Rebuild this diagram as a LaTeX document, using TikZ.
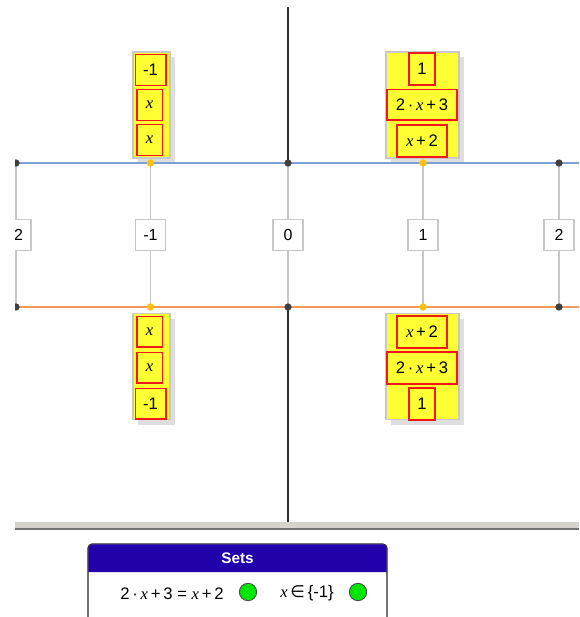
\documentclass[tikz,border=0pt]{standalone}
\usepackage{fontspec}
\setmainfont{Liberation Sans}
\newfontfamily\varfont{Liberation Serif}
\newfontfamily\symfont{DejaVu Sans}
\usetikzlibrary{positioning,calc,shadows}
\definecolor{AxisInk}{HTML}{303030}
\definecolor{LineBlue}{HTML}{7E9FD4}
\definecolor{LineOrange}{HTML}{F79A5C}
\definecolor{DotDark}{HTML}{404040}
\definecolor{DotGold}{HTML}{FFC20E}
\definecolor{TickGray}{HTML}{C8C8C8}
\definecolor{CardYellow}{HTML}{FFFF33}
\definecolor{CardRed}{HTML}{F01818}
\definecolor{HeadBlue}{HTML}{2200AA}
\definecolor{OkGreen}{HTML}{00E600}
\definecolor{BandGray}{HTML}{D6D3CC}
\newcommand{\vx}{{\varfont\itshape x}}
\newcommand{\cdotsym}{\,\textperiodcentered\,}
\newcommand{\plussym}{\,+\,}
\tikzset{
  axis/.style={draw=AxisInk,line width=.8pt},
  tick/.style={draw=TickGray,line width=1.1pt},
  blueline/.style={draw=LineBlue,line width=1.4pt},
  orangeline/.style={draw=LineOrange,line width=1.4pt},
  dot/.style={circle,fill=DotDark,inner sep=0pt,minimum size=5.5pt},
  golddot/.style={dot,fill=DotGold},
  val/.style={draw=TickGray,line width=.9pt,fill=white,minimum width=22.5pt,minimum height=23pt,inner sep=0pt,font=\fontsize{12}{14}\selectfont},
  stack/.style={draw=TickGray,line width=.8pt,fill=CardYellow,inner sep=0pt,
    general shadow={fill=black!13,shadow xshift=4pt,shadow yshift=-4pt}},
  card/.style={draw=CardRed,line width=1pt,fill=CardYellow,inner sep=0pt,minimum height=23pt,font=\fontsize{12.5}{14}\selectfont},
  lamp/.style={circle,draw=black!70,line width=.7pt,fill=OkGreen,minimum size=13pt,inner sep=0pt},
  settext/.style={font=\fontsize{12.5}{14}\selectfont,inner sep=0pt}
}

\begin{document}
\begin{tikzpicture}[x=0.75pt,y=-0.75pt]
  \useasboundingbox (0,0) rectangle (579,617);
  % upper stacks
  \node[stack,minimum width=27.75pt,minimum height=79.5pt] (stl) at (151.5,105) {};
  \node[card,minimum width=23pt] (tl1) at (150.5,70) {-1};
  \node[card,minimum width=19pt] (tl2) at (149.5,105) {\vx};
  \node[card,minimum width=19pt] (tl3) at (149.5,140) {\vx};
  \node[stack,minimum width=54.75pt,minimum height=79.5pt] (str) at (422.5,105) {};
  \node[card,minimum width=19.5pt,minimum height=24pt] (tr1) at (422,69) {1};
  \node[card,minimum width=52.5pt] (tr2) at (422,104.5) {2\cdotsym\vx\plussym3};
  \node[card,minimum width=37.5pt,minimum height=24pt] (tr3) at (422,141) {\vx\plussym2};

  % lower stacks
  \node[stack,minimum width=27.75pt,minimum height=80pt] (sbl) at (151.5,366.5) {};
  \node[card,minimum width=19pt] (bl1) at (149.5,331.5) {\vx};
  \node[card,minimum width=19pt] (bl2) at (149.5,367.5) {\vx};
  \node[card,minimum width=23pt] (bl3) at (150.5,403.5) {-1};
  \node[stack,minimum width=54.75pt,minimum height=80pt] (sbr) at (422.5,366.5) {};
  \node[card,minimum width=37.5pt,minimum height=24pt] (br1) at (422,332) {\vx\plussym2};
  \node[card,minimum width=52.5pt,minimum height=24pt] (br2) at (422,368) {2\cdotsym\vx\plussym3};
  \node[card,minimum width=19.5pt,minimum height=24pt] (br3) at (422,404) {1};

  \begin{scope}
    \clip (15,0) rectangle (579,617);
    % vertical axis
    \coordinate (atop) at (288,7);
    \coordinate (abot) at (288,522);
    \draw[axis] (atop)--(abot);
    % points on both lines
    \foreach \n/\x in {m2/16,m1/150.5,z/288,p1/423,p2/559}{
      \coordinate (t\n) at (\x,163);
      \coordinate (b\n) at (\x,307);
    }
    \draw[tick] (tm2)--node[val] (vm2) {-2}(bm2);
    \draw[tick] (tm1)--node[val] (vm1) {-1}(bm1);
    \draw[tick] (tz)--node[val] (vz) {0}(bz);
    \draw[tick] (tp1)--node[val] (vp1) {1}(bp1);
    \draw[tick] (tp2)--node[val] (vp2) {2}(bp2);
    \coordinate (tl) at (15,163);
    \coordinate (tr) at (579,163);
    \coordinate (bl) at (15,307);
    \coordinate (br) at (579,307);
    \draw[blueline] (tl)--(tr);
    \draw[orangeline] (bl)--(br);
    \foreach \n in {m2,z,p2}{
      \node[dot] at (t\n) {};
      \node[dot] at (b\n) {};
    }
    \node[golddot] (gtm1) at (tm1) {};
    \node[golddot] (gbm1) at (bm1) {};
    \node[golddot] (gtp1) at (tp1) {};
    \node[golddot] (gbp1) at (bp1) {};
  \end{scope}

  % divider
  \fill[BandGray] (15,522) rectangle (579,528);
  \draw[black!55,line width=1.5pt] (15,529)--(579,529);

  % sets panel
  \draw[black!85,line width=.8pt,fill=white,rounded corners=3pt] (88,622) rectangle (387,544);
  \fill[HeadBlue] (88.4,572) {[rounded corners=3pt] -- (88.4,544.4) -- (386.6,544.4)} -- (386.6,572) -- cycle;
  \node[font=\bfseries\fontsize{11.5}{13}\selectfont,text=white] (head) at (237.5,558) {Sets};
  \node[settext] (eq) at (172,593.5) {2\cdotsym\vx\plussym3 = \vx\plussym2};
  \node[lamp] (lampeq) at (248,592) {};
  \node[settext] (mem) at (307,593.5) {\vx\,{\symfont ∈}\,\{-1\}};
  \node[lamp] (lampmem) at (358,592) {};
\end{tikzpicture}
\end{document}
